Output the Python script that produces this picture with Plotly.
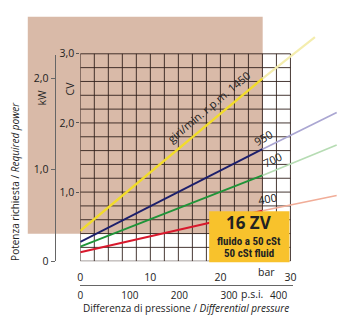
import plotly.graph_objects as go

# ---- data ----
speeds = ["1450", "950", "700", "400"]
bar_in = [0, 26]                      # segment inside the shaded area
cv_in = {
    "1450": [0.44, 2.64],
    "950": [0.28, 1.62],
    "700": [0.21, 1.24],
    "400": [0.13, 0.73],
}
bar_out_end = {"1450": 33.5, "950": 36.6, "700": 36.6, "400": 36.6}
cv_out_end = {"1450": 3.24, "950": 2.15, "700": 1.68, "400": 0.95}
col_dark = {"1450": "#f2dc2a", "950": "#1c1f6b", "700": "#1f9438", "400": "#d8182c"}
col_light = {"1450": "#f4edae", "950": "#aaa6d2", "700": "#b6dcb3", "400": "#f1ad98"}

bar_ticks = [0, 10, 20, 30]
cv_ticks = [1, 2, 3]
cv_ticktext = ["1,0", "2,0", "3,0"]
kw_ticks = [0, 1, 2]
kw_ticktext = ["0", "1,0", "2,0"]
psi_ticks = [0, 100, 200, 300, 400]

W, H = 340, 323
X0, PXB = 78, 7.0667      # px of bar 0, px per bar
Y0, PYC = 267, 70.667     # px of CV 0, px per CV


def px(x):
    return x / W


def py(y):
    return 1 - y / H


FONT = "Open Sans, DejaVu Sans, sans-serif"
TXT = "#222222"

fig = go.Figure()

for s in speeds:
    fig.add_trace(go.Scatter(x=bar_in, y=cv_in[s], mode="lines",
                             line=dict(color=col_dark[s], width=2.4 if s == "1450" else 1.9),
                             hoverinfo="skip", showlegend=False))
    fig.add_trace(go.Scatter(x=[bar_in[1], bar_out_end[s]], y=[cv_in[s][1], cv_out_end[s]],
                             mode="lines",
                             line=dict(color=col_light[s], width=2.2 if s == "1450" else 1.7),
                             hoverinfo="skip", showlegend=False))

# dummy trace for the kW / psi axes
fig.add_trace(go.Scatter(x=[0], y=[0], xaxis="x2", yaxis="y2", mode="markers",
                         marker=dict(opacity=0), hoverinfo="skip", showlegend=False))

shapes = []
# beige background
shapes.append(dict(type="rect", xref="paper", yref="paper", x0=px(25), x1=px(262),
                   y0=py(239), y1=py(17), fillcolor="#d9baa8", line=dict(width=0), layer="below"))
gc = "rgba(45,30,25,0.88)"
for i in range(16):
    b = i * 2
    shapes.append(dict(type="line", xref="x", yref="y", x0=b, x1=b, y0=0, y1=3,
                       line=dict(color=gc, width=1), layer="below"))
    c = i * 0.2
    shapes.append(dict(type="line", xref="x", yref="y", x0=0, x1=30, y0=c, y1=c,
                       line=dict(color=gc, width=1), layer="below"))
# yellow box
shapes.append(dict(type="rect", xref="paper", yref="paper", x0=px(208), x1=px(289),
                   y0=py(268), y1=py(216), fillcolor="#f8c22c", line=dict(width=0), layer="above"))

ann = []


def A(text, x, y, size=10, angle=0, bold=False, family=FONT, xanchor="center"):
    ann.append(dict(text=f"<b>{text}</b>" if bold else text, x=px(x), y=py(y),
                    xref="paper", yref="paper", showarrow=False, textangle=angle,
                    xanchor=xanchor, yanchor="middle",
                    font=dict(size=size, color=TXT, family=family)))


A("giri/min. r.p.m. 1450", 208, 109, size=11, angle=-40)
A("950", 263, 141, size=11, angle=-30)
A("700", 272, 163, size=11, angle=-25)
A("400", 267, 203, size=11, angle=-10)
A("16 ZV", 248, 227, size=17, bold=True)
cond = "Liberation Sans Narrow, Roboto Condensed, Arial Narrow, DejaVu Sans Condensed, sans-serif"
A("fluido a 50 cSt", 248, 246.5, size=11, bold=True, family=cond)
A("50 cSt fluid", 248, 259.5, size=11, bold=True, family=cond)
A("bar", 266, 278, size=10.5)
A("p.s.i.", 251, 301, size=10.5)
A("kW", 39, 100, size=10.5, angle=-90)
A("CV", 68, 90, size=10.5, angle=-90)
A("Potenza richiesta / <i>Required power</i>", 12, 185, size=10, angle=-90)
A("Differenza di pressione / <i>Differential pressure</i>", 185, 315, size=10)

tickfont = dict(size=10.5, color=TXT, family=FONT)

fig.update_layout(
    width=W, height=H, margin=dict(l=0, r=0, t=0, b=0),
    paper_bgcolor="white", plot_bgcolor="rgba(0,0,0,0)",
    shapes=shapes, annotations=ann, showlegend=False,
    xaxis=dict(domain=[px(X0), 1], range=[0, (W - X0) / PXB], showgrid=False, zeroline=False,
               showline=False, tickvals=bar_ticks, ticks="", tickfont=tickfont,
               ticklabelstandoff=8, anchor="y", fixedrange=True),
    yaxis=dict(domain=[py(Y0), 1], range=[0, Y0 / PYC], showgrid=False, zeroline=False,
               showline=False, tickvals=cv_ticks, ticktext=cv_ticktext, ticks="outside",
               ticklen=3, tickcolor="#555", tickfont=tickfont, anchor="x", fixedrange=True),
    xaxis2=dict(domain=[px(X0), px(293)], range=[0, 430], anchor="free", position=py(291),
                showgrid=False, zeroline=False, showline=True, linecolor="#666", linewidth=1,
                tickvals=psi_ticks, ticks="", tickfont=dict(size=10, color=TXT, family=FONT),
                ticklabelstandoff=1, fixedrange=True),
    yaxis2=dict(domain=[py(Y0), py(56)], range=[0, (Y0 - 56) / 93.5], anchor="free",
                position=px(52), side="left", showgrid=False, zeroline=False, showline=True,
                linecolor="#666", linewidth=1, tickvals=kw_ticks, ticktext=kw_ticktext,
                ticks="outside", ticklen=4, tickcolor="#666", tickfont=tickfont, fixedrange=True),
)

fig.write_html("out.html")
